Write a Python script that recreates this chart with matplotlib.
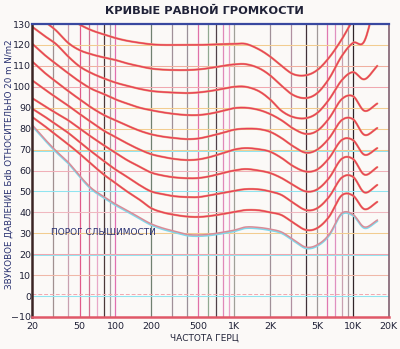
import numpy as np
import matplotlib
matplotlib.use("Agg")
import matplotlib.pyplot as plt
from matplotlib import transforms

# third-octave band centres (Hz)
freqs = [20, 25, 31.5, 40, 50, 63, 80, 100, 125, 160, 200, 250, 315, 400, 500,
         630, 800, 1000, 1250, 1600, 2000, 2500, 3150, 4000, 5000, 6300, 8000,
         10000, 12500, 16000]

# sound pressure level (dB) of each equal-loudness contour at the band centres
curve_120 = [145, 141, 137, 133, 129.7, 127, 125, 123.3, 122, 121, 120.3, 120, 120, 120, 120,
             120.2, 120.4, 120.5, 120.5, 118, 114.5, 110, 106, 105.5, 108, 114, 122.5,
             132, 140, 150]
curve_110 = [136, 131.5, 127, 121, 117.5, 115.5, 114, 112.8, 111.2, 109.8, 108.7, 108.2, 108, 108, 108.3,
             109, 110, 110.7, 110.8, 109, 105.5, 100.5, 96, 94.6, 97, 104, 114.5,
             121, 122, 145]
curve_100 = [128.6, 124.5, 120.5, 114.5, 109.7, 106.5, 104, 102, 100.5, 99, 98, 97.5, 97.2, 97, 97.3,
             98, 99, 100, 100, 98, 94, 88.5, 85.5, 85, 87.5, 94, 103,
             107, 103.6, 110]
curve_90 = [120.5, 115.5, 111, 106.5, 102.5, 99, 96.5, 94, 92, 90, 88.8, 87.8, 87, 86.5, 86.5,
            87.2, 88.5, 89.8, 90, 89, 87, 84, 80, 77.5, 79, 85, 94,
            95.5, 88.5, 92]
curve_80 = [112, 107, 102.5, 98, 94, 90, 86.5, 84, 81.5, 79, 77.3, 76.2, 75.5, 75, 75.3,
            76.5, 78, 79.5, 80, 79.8, 78.5, 75.5, 71.5, 68.5, 70, 75.5, 84,
            84.5, 77, 80.3]
curve_70 = [103, 99, 95, 91, 87, 83, 79, 76, 73, 70, 67.8, 66.5, 65.5, 65, 65.3,
            66.5, 68.3, 70, 70.7, 70.2, 69, 66, 62, 59.5, 60.5, 66, 74.5,
            74.5, 67.5, 70.7]
curve_60 = [94.5, 91, 87.5, 84, 80, 76, 72, 68.5, 65, 61.8, 59, 57.6, 56.7, 56.3, 56.4,
            57.3, 58.8, 60, 60.7, 60, 58.8, 56.4, 53, 50, 51, 56.5, 65.5,
            65.5, 58, 61.6]
curve_50 = [89.5, 86, 82, 78, 73.5, 69, 64.5, 60.5, 57, 53, 50, 48.7, 47.7, 47.3, 47.3,
            48.2, 49.3, 50.3, 51.1, 51, 50, 48.3, 44.5, 41.1, 42, 47.5, 56.5,
            57, 49.5, 53.1]
curve_40 = [85.5, 81.5, 77, 72.5, 68, 63, 58, 54, 50, 46, 42, 40, 38.8, 38, 37.8,
            38.3, 39.2, 40.2, 41.1, 41, 40, 38.7, 35, 31.6, 32.5, 38, 48,
            48, 41.5, 45]
threshold = [81.7, 75.5, 69.5, 64, 57.5, 51.5, 47.5, 44, 41, 37.5, 34.5, 32.5, 31, 29.5, 29.2,
             29.6, 30.5, 31.5, 33, 32.8, 32, 30.6, 27, 23.4, 24.5, 29.5, 39.5,
             39, 33, 36.3]

contours = [curve_120, curve_110, curve_100, curve_90, curve_80,
            curve_70, curve_60, curve_50, curve_40]

x_ticks = [20, 50, 100, 200, 500, 1000, 2000, 5000, 10000, 20000]
x_tick_labels = ["20", "50", "100", "200", "500", "1K", "2K", "5K", "10K", "20K"]
y_ticks = list(range(-10, 131, 10))

grid_freqs = [30, 40, 50, 60, 70, 80, 90, 100, 200, 300, 400, 500, 600, 700, 800,
              900, 1000, 2000, 3000, 4000, 5000, 6000, 7000, 8000, 9000, 10000]

# colours of the frequency grid lines, one per entry of grid_freqs
vgrid_colors = ['#a09090', '#c8a0b0', '#e05a8a', '#d07090', '#e8a8c8', '#4a3838',
                '#a89aa0', '#e070b0', '#708070', '#a09098', '#9a9098', '#e070a8',
                '#90a890', '#504048', '#e088b8', '#e8a0c8', '#a0a098', '#a09098',
                '#b090a0', '#403038', '#a09898', '#e078b0', '#e090c0', '#c8a0b0',
                '#a89aa0', '#302428']
# colours of the level grid lines (dB 0..120)
hgrid_colors = {0: '#90e4f0', 10: '#f0b8a8', 20: '#f0a8b0', 30: '#f2cc90',
                40: '#f0b8c0', 50: '#90e4f0', 60: '#f0b0b8', 70: '#f2cc90',
                80: '#f2cc90', 90: '#f2cc90', 100: '#f0a8b0', 110: '#f0b0a0',
                120: '#f2cc90'}

BG = '#fbf9f7'
TEXT = '#202238'


def smooth(xs, ys, n=12):
    """Catmull-Rom path through the points, in log-frequency space."""
    lx = np.log10(np.asarray(xs, float))
    y = np.asarray(ys, float)
    px = np.concatenate([[2 * lx[0] - lx[1]], lx, [2 * lx[-1] - lx[-2]]])
    py = np.concatenate([[2 * y[0] - y[1]], y, [2 * y[-1] - y[-2]]])
    outx, outy = [], []
    t = np.linspace(0, 1, n, endpoint=False)
    for i in range(1, len(px) - 2):
        for arr, out in ((px, outx), (py, outy)):
            p0, p1, p2, p3 = arr[i - 1], arr[i], arr[i + 1], arr[i + 2]
            out.extend(0.5 * ((2 * p1) + (-p0 + p2) * t
                              + (2 * p0 - 5 * p1 + 4 * p2 - p3) * t ** 2
                              + (-p0 + 3 * p1 - 3 * p2 + p3) * t ** 3))
    outx.append(lx[-1])
    outy.append(y[-1])
    return 10 ** np.array(outx), np.array(outy)


fig = plt.figure(figsize=(4.0, 3.49), dpi=100, facecolor=BG)
ax = fig.add_axes([0.081, 0.0917, 0.891, 0.8395], facecolor=BG)
ax.set_xscale('log')
ax.set_xlim(20, 20000)
ax.set_ylim(-10, 130)

for f, c in zip(grid_freqs, vgrid_colors):
    ax.axvline(f, color=c, lw=0.9, zorder=1)
for lvl, c in hgrid_colors.items():
    ax.axhline(lvl, color=c, lw=0.75, zorder=1)
# cyan companions under a few level lines
down = transforms.offset_copy(ax.transData, fig=fig, x=0, y=-1.2, units='dots')
for lvl in (20, 70):
    ax.plot([20, 20000], [lvl, lvl], color='#90e4f0', lw=0.7, zorder=1, transform=down)
up = transforms.offset_copy(ax.transData, fig=fig, x=0, y=2.0, units='dots')
ax.plot([20, 20000], [0, 0], color='#f0a8b0', lw=0.7, ls=(0, (4, 2)), zorder=1, transform=up)

# contours
for vals in contours:
    sx, sy = smooth(freqs, vals)
    ax.plot(sx, sy, color='#f09a70', lw=1.6, zorder=3, solid_capstyle='round')
    ax.plot(sx, sy, color='#e6405a', lw=0.95, zorder=4, solid_capstyle='round')

# threshold of hearing with its cyan shadow
sx, sy = smooth(freqs, threshold)
shadow = transforms.offset_copy(ax.transData, fig=fig, x=0, y=-1.3, units='dots')
ax.plot(sx, sy, color='#80d8ea', lw=1.2, zorder=3, transform=shadow)
ax.plot(sx, sy, color='#d88c98', lw=1.1, zorder=4)

ax.text(28.5, 30.3, "ПОРОГ СЛЫШИМОСТИ", fontsize=6.5, color='#283070',
        va='center', ha='left', zorder=5)

# frame
for side, col, lw in (('top', '#3848a0', 1.6), ('bottom', '#e05868', 1.8),
                      ('left', '#3a2424', 1.8), ('right', '#806070', 1.2)):
    ax.spines[side].set_color(col)
    ax.spines[side].set_linewidth(lw)
    ax.spines[side].set_zorder(6)

ax.set_xticks(x_ticks)
ax.set_xticklabels(x_tick_labels)
ax.xaxis.set_minor_locator(matplotlib.ticker.NullLocator())
ax.set_yticks(y_ticks)
ax.tick_params(length=0, labelsize=6.8, labelcolor=TEXT)
ax.tick_params(axis='x', pad=3.5)
ax.tick_params(axis='y', pad=1)

fig.text(0.51, 0.968, "КРИВЫЕ РАВНОЙ ГРОМКОСТИ", ha='center', va='center',
         fontsize=8.2, color=TEXT, fontweight='bold')
fig.text(0.51, 0.03, "ЧАСТОТА ГЕРЦ", ha='center', va='center',
         fontsize=6.5, color=TEXT)
fig.text(0.022, 0.53, "ЗВУКОВОЕ ДАВЛЕНИЕ Бdb ОТНОСИТЕЛЬНО 20 m N/m2",
         rotation=90, ha='center', va='center', fontsize=6.3, color='#283070')

fig.savefig("out.png", dpi=100, facecolor=BG)
